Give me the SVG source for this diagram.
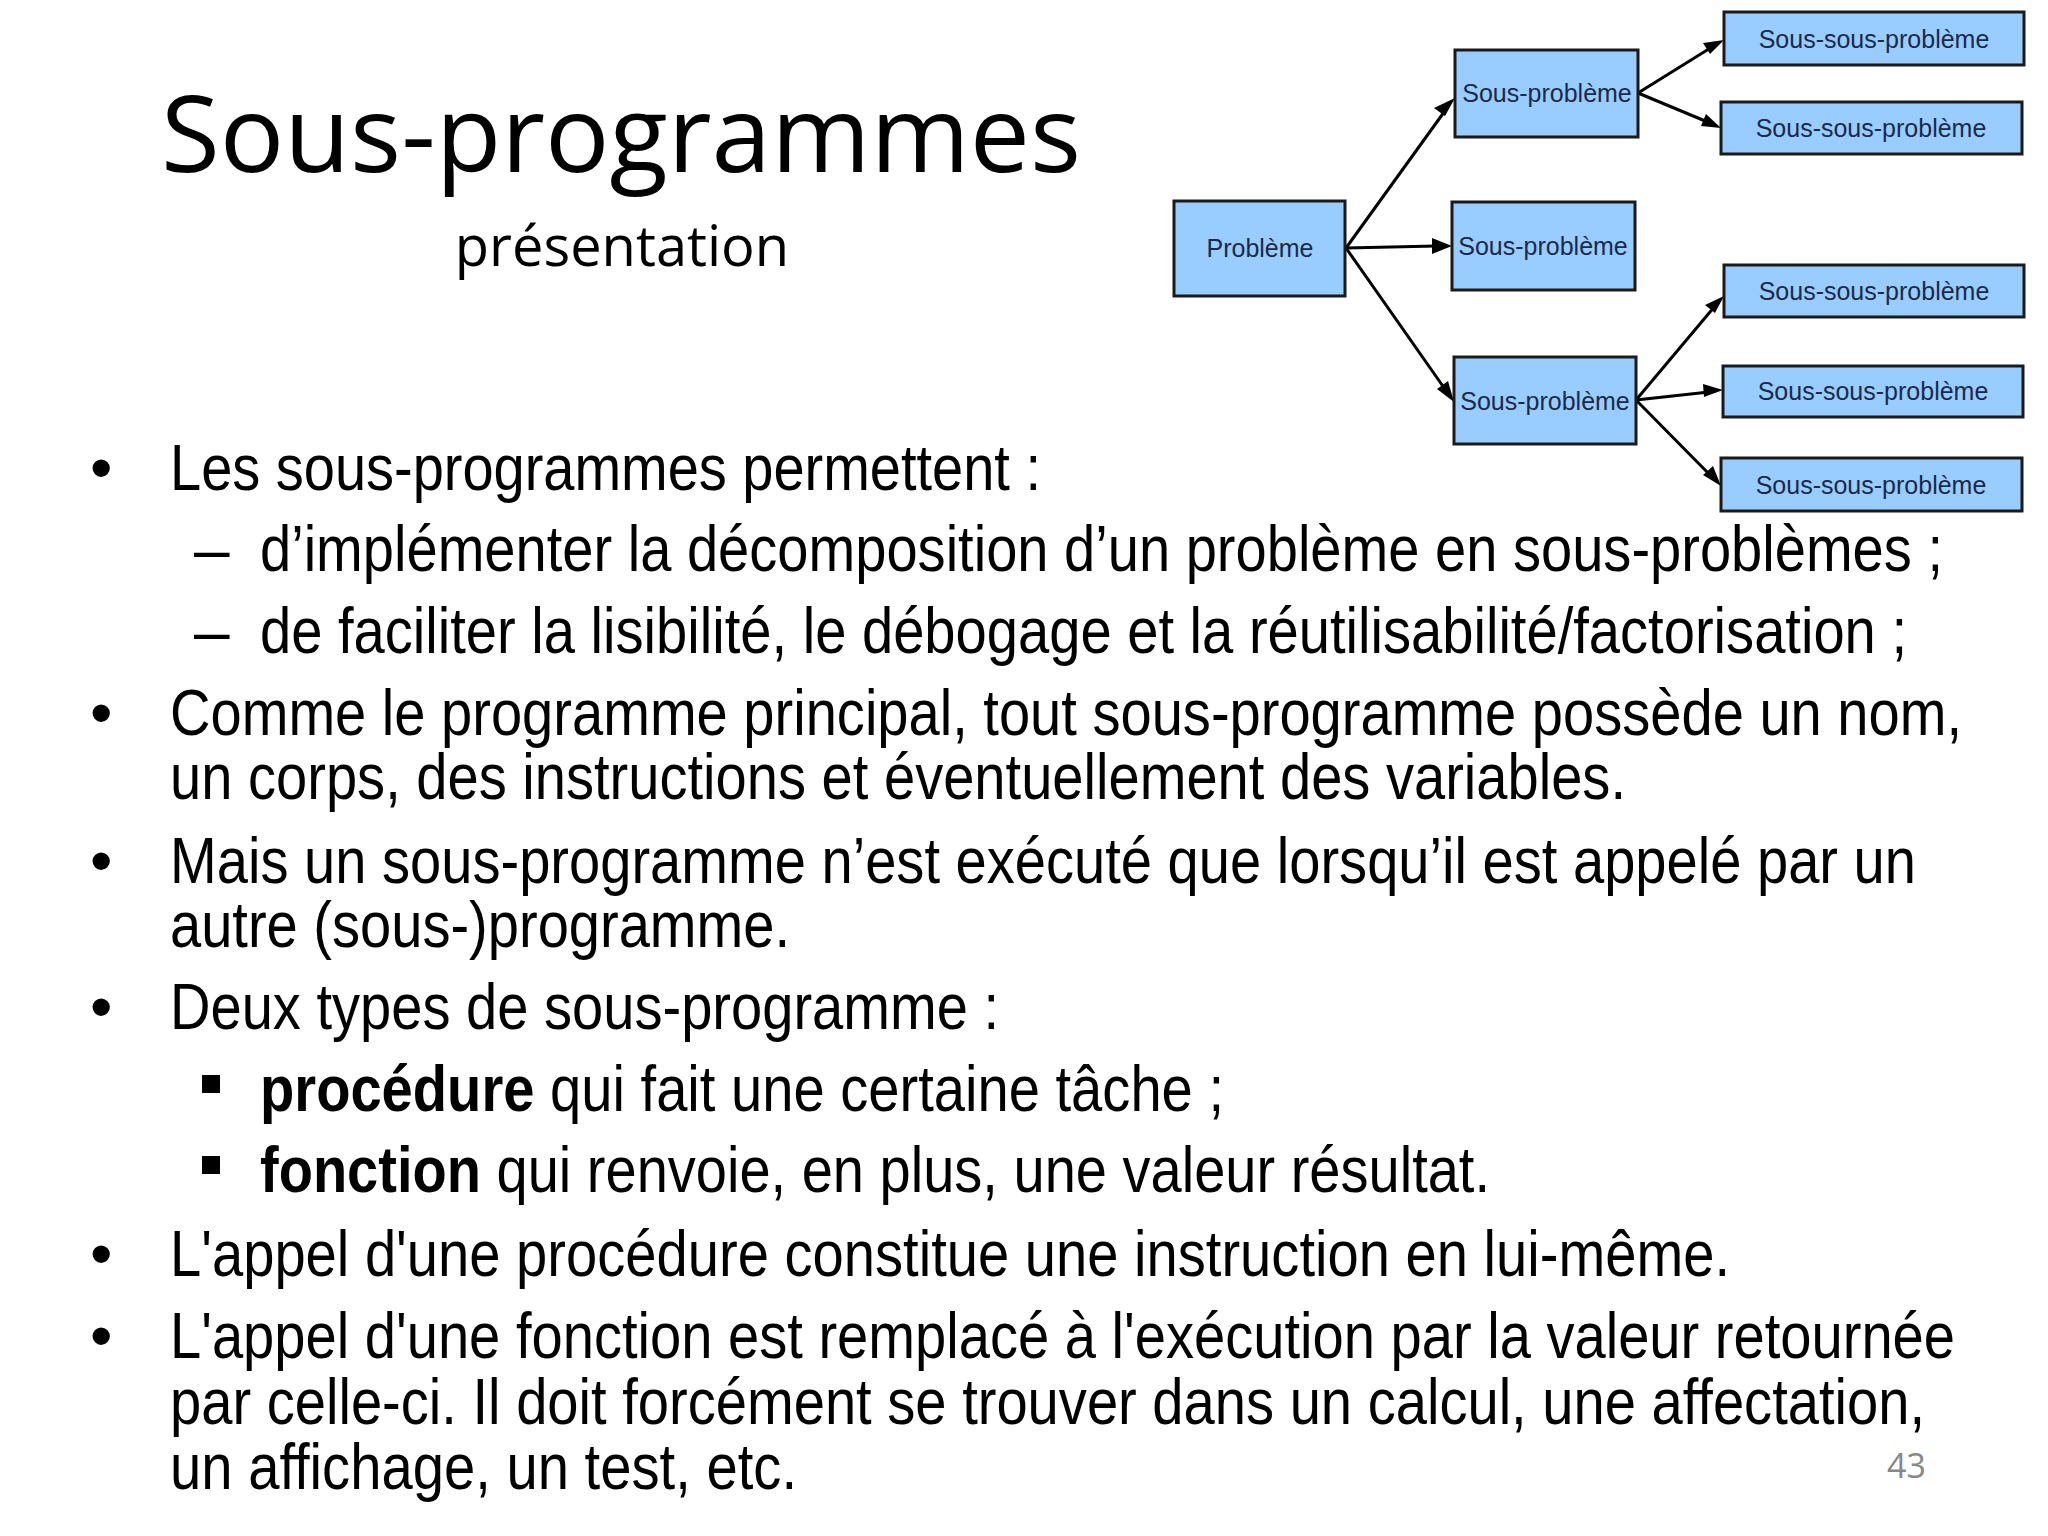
<svg xmlns="http://www.w3.org/2000/svg" width="2048" height="1536" viewBox="0 0 2048 1536">
<style>
.box{fill:#99ccff;stroke:#1a1a1a;stroke-width:3}
.bl{font-family:"Liberation Sans Narrow","Liberation Sans",Arial,sans-serif;font-size:25px;fill:#1a2a4a;text-anchor:middle}
.c{stroke:#000;stroke-width:3;fill:none}
.t{font-family:"Liberation Sans Narrow","Liberation Sans",Arial,sans-serif;font-size:64px;fill:#000}
</style>
<rect width="2048" height="1536" fill="#fff"/>
<text x="161" y="172" font-family="'Open Sans',sans-serif" font-size="106" fill="#000" textLength="920" lengthAdjust="spacingAndGlyphs">Sous-programmes</text>
<text x="622" y="266" font-family="'Open Sans',sans-serif" font-size="56" fill="#000" text-anchor="middle">présentation</text>
<g id="connectors">
<path class="c" d="M1346,248 L1447,108"/><path d="M1455,98 l-21,10 l11,8z" fill="#000"/>
<path class="c" d="M1346,248 L1436,246"/><path d="M1452,246 l-20,-8 v16z" fill="#000"/>
<path class="c" d="M1346,248 L1447,392"/><path d="M1454,402 l-6,-21 l-11,8z" fill="#000"/>
<path class="c" d="M1638,93 L1712,47"/><path d="M1724,40 l-21,3 l7,11z" fill="#000"/>
<path class="c" d="M1638,93 L1710,123"/><path d="M1721,128 l-15,-14 l-5,12z" fill="#000"/>
<path class="c" d="M1636,400 L1715,306"/><path d="M1724,296 l-19,9 l10,8z" fill="#000"/>
<path class="c" d="M1636,400 L1709,392"/><path d="M1723,390 l-20,-6 l1,13z" fill="#000"/>
<path class="c" d="M1636,400 L1712,477"/><path d="M1721,486 l-8,-20 l-10,9z" fill="#000"/>
</g>
<g id="n0"><rect class="box" x="1174" y="201" width="171" height="95"/><text class="bl" x="1260" y="257">Problème</text></g>
<g id="n1"><rect class="box" x="1455" y="50" width="183" height="87"/><text class="bl" x="1547" y="102">Sous-problème</text></g>
<g id="n2"><rect class="box" x="1452" y="202" width="183" height="88"/><text class="bl" x="1543" y="255">Sous-problème</text></g>
<g id="n3"><rect class="box" x="1454" y="357" width="182" height="87"/><text class="bl" x="1545" y="410">Sous-problème</text></g>
<g id="n4"><rect class="box" x="1724" y="12" width="300" height="53"/><text class="bl" x="1874" y="48">Sous-sous-problème</text></g>
<g id="n5"><rect class="box" x="1721" y="102" width="301" height="52"/><text class="bl" x="1871" y="137">Sous-sous-problème</text></g>
<g id="n6"><rect class="box" x="1724" y="265" width="300" height="52"/><text class="bl" x="1874" y="300">Sous-sous-problème</text></g>
<g id="n7"><rect class="box" x="1723" y="366" width="300" height="51"/><text class="bl" x="1873" y="400">Sous-sous-problème</text></g>
<g id="n8"><rect class="box" x="1721" y="458" width="301" height="53"/><text class="bl" x="1871" y="494">Sous-sous-problème</text></g>
<g id="body">
<text class="t" x="90" y="490">•</text><text class="t" x="170" y="490" textLength="871" lengthAdjust="spacingAndGlyphs">Les sous-programmes permettent :</text>
<text class="t" x="194" y="571">–</text><text class="t" x="260" y="571" textLength="1683" lengthAdjust="spacingAndGlyphs">d’implémenter la décomposition d’un problème en sous-problèmes ;</text>
<text class="t" x="194" y="653">–</text><text class="t" x="260" y="653" textLength="1647" lengthAdjust="spacingAndGlyphs">de faciliter la lisibilité, le débogage et la réutilisabilité/factorisation ;</text>
<text class="t" x="90" y="735">•</text><text class="t" x="170" y="735" textLength="1792" lengthAdjust="spacingAndGlyphs">Comme le programme principal, tout sous-programme possède un nom,</text>
<text class="t" x="170" y="799" textLength="1456" lengthAdjust="spacingAndGlyphs">un corps, des instructions et éventuellement des variables.</text>
<text class="t" x="90" y="883">•</text><text class="t" x="170" y="883" textLength="1746" lengthAdjust="spacingAndGlyphs">Mais un sous-programme n’est exécuté que lorsqu’il est appelé par un</text>
<text class="t" x="170" y="947" textLength="620" lengthAdjust="spacingAndGlyphs">autre (sous-)programme.</text>
<text class="t" x="90" y="1029">•</text><text class="t" x="170" y="1029" textLength="829" lengthAdjust="spacingAndGlyphs">Deux types de sous-programme :</text>
<rect x="202" y="1075" width="18" height="18" fill="#000"/><text class="t" x="260" y="1111" textLength="964" lengthAdjust="spacingAndGlyphs"><tspan font-weight="bold">procédure</tspan> qui fait une certaine tâche ;</text>
<rect x="202" y="1156" width="18" height="18" fill="#000"/><text class="t" x="260" y="1192" textLength="1230" lengthAdjust="spacingAndGlyphs"><tspan font-weight="bold">fonction</tspan> qui renvoie, en plus, une valeur résultat.</text>
<text class="t" x="90" y="1276">•</text><text class="t" x="170" y="1276" textLength="1560" lengthAdjust="spacingAndGlyphs">L'appel d'une procédure constitue une instruction en lui-même.</text>
<text class="t" x="90" y="1358">•</text><text class="t" x="170" y="1358" textLength="1785" lengthAdjust="spacingAndGlyphs">L'appel d'une fonction est remplacé à l'exécution par la valeur retournée</text>
<text class="t" x="170" y="1424" textLength="1755" lengthAdjust="spacingAndGlyphs">par celle-ci. Il doit forcément se trouver dans un calcul, une affectation,</text>
<text class="t" x="170" y="1489" textLength="627" lengthAdjust="spacingAndGlyphs">un affichage, un test, etc.</text>
<text x="1887" y="1478" font-family="'Open Sans',sans-serif" font-size="34" fill="#888">43</text>
</g>
</svg>
